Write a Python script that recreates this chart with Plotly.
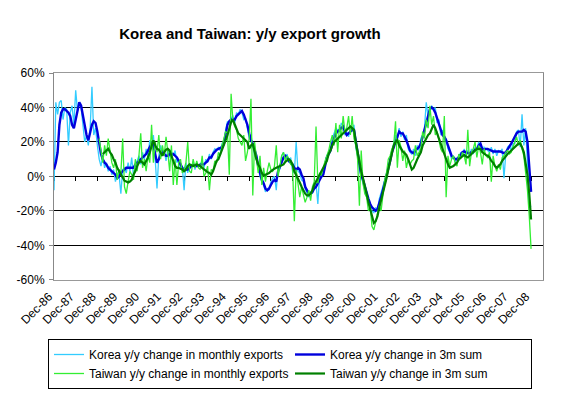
import plotly.graph_objects as go

# ---------------- data (monthly, Dec-86 ... Dec-08, % y/y) ----------------
tick_labels = ["Dec-86", "Dec-87", "Dec-88", "Dec-89", "Dec-90", "Dec-91", "Dec-92",
               "Dec-93", "Dec-94", "Dec-95", "Dec-96", "Dec-97", "Dec-98", "Dec-99",
               "Dec-00", "Dec-01", "Dec-02", "Dec-03", "Dec-04", "Dec-05", "Dec-06",
               "Dec-07", "Dec-08"]

# Korea y/y change in monthly exports (first value = Dec-86, then Jan..Dec per year)
korea_monthly_dec86 = [-8]
korea_monthly_rows = [
    [43, 36, 43, 44, 33, 40, 39, 18, 37, 41, 30, 50],      # 1987
    [38, 42, 40, 30, 20, 24, 18, 28, 52, 24, 28, 18],      # 1988
    [10, 6, 12, 5, 8, 3, 6, 1, 4, -3, 2, 1],               # 1989
    [-10, 4, 5, 2, 8, 3, 11, 0, 6, 9, 12, 7],              # 1990
    [14, 10, 16, 12, 21, 17, 24, 10, -7, 12, 18, 13],      # 1991
    [15, 9, 16, 11, 14, 12, 15, 8, 10, 4, 6, -8],          # 1992
    [8, 2, 7, 5, 9, 4, 8, 6, 7, 9, 5, 10],                 # 1993
    [8, 13, 10, 14, 16, 15, 17, 15, 19, 18, 27, 32],       # 1994
    [30, 34, 35, 31, 37, 36, 39, 37, 33, 34, 28, 22],      # 1995
    [24, 18, 12, 10, 4, 0, -3, -5, -9, -7, -8, -3],        # 1996
    [-1, 0, -8, 6, 4, 12, 14, 10, 13, 8, 11, 3],           # 1997
    [2, 20, 3, 2, -2, -3, -7, -10, -12, -9, -10, -5],      # 1998
    [-4, -16, 2, -1, 3, 8, 12, 14, 17, 22, 25, 28],        # 1999
    [27, 26, 31, 29, 24, 26, 23, 28, 26, 30, 17, 12],      # 2000
    [4, 0, -4, -8, -12, -14, -19, -20, -21, -18, -20, -13],  # 2001
    [-10, -6, -2, 1, 6, 10, 15, 19, 24, 21, 28, 23],       # 2002
    [26, 21, 24, 16, 14, 13, 16, 12, 18, 15, 22, 24],      # 2003
    [28, 43, 35, 38, 41, 39, 40, 31, 33, 24, 27, 21],      # 2004
    [22, 16, 14, 10, 12, 8, 11, 9, 14, 13, 16, 12],        # 2005
    [15, 12, 16, 13, 17, 15, 20, 18, 14, 17, 16, 15],      # 2006
    [14, 17, 13, 16, 12, 15, 14, 16, -1, 13, 17, 18],      # 2007
    [15, 19, 19, 26, 27, 17, 36, 18, 28, 8, -18, -17],     # 2008
]

# Korea y/y change in 3m sum
korea_3m_dec86 = [4]
korea_3m_rows = [
    [8, 14, 30, 37, 39, 39, 38, 37, 35, 30, 28, 33],
    [39, 43, 41, 35, 30, 24, 21, 26, 30, 32, 31, 26],
    [19, 13, 10, 8, 7, 5, 4, 3, 2, 1, -1, 0],
    [2, 3, 4, 5, 5, 5, 5, 5, 7, 8, 9, 10],
    [11, 12, 13, 15, 17, 19, 18, 12, 8, 10, 13, 15],
    [13, 12, 12, 13, 13, 13, 12, 11, 9, 7, 5, 4],
    [4, 4, 5, 6, 7, 6, 6, 6, 7, 7, 7, 8],
    [9, 11, 11, 13, 14.5, 15.5, 16, 16.5, 17, 19, 24, 30],
    [32, 33, 33, 33, 35, 36, 37, 38, 36, 33, 30, 25],
    [21, 19, 15, 12, 6, 1, -2, -4, -7, -8, -7, -5],
    [-3, -2, -3, 3, 6, 9, 11, 12, 11, 9, 8, 7],
    [5, 4, 5, 4, 1, -1, -6, -8, -10, -10, -9, -7],
    [-6, -4, -2, 0, 1, 6, 11, 13, 15, 19, 22, 25],
    [26, 27, 28, 29, 26, 24, 25, 26, 27, 27, 20, 15],
    [6, 1, -2, -6, -10, -13, -16, -18, -19, -20, -19, -16],
    [-12, -8, -4, 0, 5, 9, 14, 17, 21, 23, 26, 25],
    [25, 23, 21, 18, 15, 14, 13.5, 15, 16, 17, 19, 23],
    [27, 32, 36, 39, 40, 39, 37, 34, 31, 27, 24, 23],
    [21, 18, 15, 12, 11, 10, 10, 11, 12.5, 14, 14.5, 14],
    [13.5, 13.5, 14, 14.5, 15.5, 16, 18, 19, 16, 15.5, 16, 16],
    [15.5, 15, 14.5, 14.5, 14.5, 14.5, 14.5, 14, 13.5, 14, 15.5, 17],
    [19, 21, 23, 25, 26, 26, 26, 27, 26, 20, 4, -9],
]

# Taiwan series start in 1989 (Dec-86 .. Dec-88 empty)
taiwan_monthly_rows = [
    [22, 14, 8, 18, 12, 22, 14, 8, 5, 10, -2, 4],          # 1989
    [2, 22, -6, -10, -3, 3, 1, -2, 10, 3, 12, 25],         # 1990
    [5, 10, 3, 12, 8, 30, 8, 20, 14, 24, 10, 18],          # 1991
    [12, 23, 14, 3, 18, -5, 10, -5, 8, 10, 2, 4],          # 1992
    [8, 20, 3, 2, 10, 5, 9, 5, 4, 12, 0, 2],               # 1993
    [6, -8, 4, 3, 9, 8, 14, 12, 18, 22, 26, 25],           # 1994
    [1, 48, 32, 29, 27, 22, 20, 18, 24, 9, 14, 22],        # 1995
    [45, -11, 20, 12, 2, 12, -5, 5, -3, 3, 8, 4],          # 1996
    [3, 6, 18, 0, 5, 12, 14, 9, 12, 10, 7, 6],             # 1997
    [-26, 4, -4, -12, -6, -10, -15, -12, -8, -14, -6, -3], # 1998
    [29, -4, 2, 1, 6, 9, 12, 15, 20, 24, 18, 31],          # 1999
    [14, 30, 22, 35, 26, 28, 35, 24, 35, 22, 18, 10],      # 2000
    [-17, 15, -4, -10, -12, -20, -18, -29, -31, -26, -22, -17],  # 2001
    [-20, -12, -2, 2, 10, 12, 16, 18, 32, 5, 21, 17],      # 2002
    [9, 15, 5, 10, 7, 9, 10, 18, 12, 14, 16, 26],          # 2003
    [22, 33, 28, 41, 30, 35, 24, 26, 20, 16, 14, 35],      # 2004
    [-12, 12, 6, 10, 12, 8, 6, 13, 10, 14, 12, 7],         # 2005
    [27, 6, 14, 16, 20, 11, 18, 14, 7, 16, 12, 11],        # 2006
    [14, -3, 12, 6, 3, 7, 4, 11, 12, 14, 15, 13],          # 2007
    [14, 17, 20, 23, 18, 21, 16, 12, 2, -8, -23, -42],     # 2008
]

taiwan_3m_rows = [
    [None, None, 13, 14, 15, 16, 14, 12.5, 10, 8, 5, 3],
    [1, -1, -2.5, -3, -3.5, -3, -2, 1, 3, 6, 8, 9],
    [8, 7, 9, 11, 14, 17, 21, 18, 16, 15.5, 14, 12],
    [14, 15.5, 16, 15, 12, 9, 6, 5, 5, 4.5, 4, 3],
    [4, 6, 7, 6.5, 6, 6.5, 7, 6.5, 6, 5, 4, 3],
    [2.5, 2, 1, 3, 6, 9, 10, 12.5, 15, 18, 21, 24],
    [28, 31.5, 33, 30, 27, 25, 24, 23, 22, 21.5, 20, 16],
    [18, 19, 14, 10, 7, 5, 2, 0.5, 1, 1.5, 2, 3],
    [4, 4.5, 5, 5.5, 6, 6.5, 7, 8.5, 9.5, 10, 9, 7],
    [3, 1, -1, -3.5, -6, -8, -10, -11, -11, -10, -8, -5],
    [-3, -1, 1, 3, 5, 7, 9, 13, 15, 18, 20, 21],
    [22, 23, 24, 25, 26, 27, 28, 29, 28, 27, 20, 14],
    [8, 3, -1, -5, -10, -15, -19, -24, -27, -26, -23, -18],
    [-14, -10, -5, -1, 4, 9, 14, 18, 20, 21, 18, 16],
    [14.5, 13.5, 12.5, 10, 7, 4, 5, 8, 10, 12, 14, 18],
    [20, 22, 24, 25, 28, 30, 28, 25, 21, 18, 15, 12],
    [9, 7, 5, 5.5, 6, 7, 8, 10, 11, 12, 12.5, 11.5],
    [11, 12, 13, 14.5, 15.5, 16, 16, 16, 14, 13, 12.5, 12],
    [11, 9, 8, 6, 5, 6, 7, 9, 10.5, 12, 13, 14],
    [15, 16, 17, 18, 19, 19, 17, 14, 8, 1, -10, -25],
]

# ---------------- assemble ----------------
def flat(rows):
    out = []
    for r in rows:
        out.extend(r)
    return out

korea_monthly = korea_monthly_dec86 + flat(korea_monthly_rows)
korea_3m = korea_3m_dec86 + flat(korea_3m_rows)
taiwan_lead = [None] * 25  # Dec-86 .. Dec-88
taiwan_monthly = taiwan_lead + flat(taiwan_monthly_rows)
taiwan_3m = taiwan_lead + flat(taiwan_3m_rows)

n = len(korea_3m)
x = list(range(n))                       # month index, 0 = Dec-86
tick_pos = [12 * i for i in range(len(tick_labels))]
x_max = 270.6

FONT = "Arial, 'Liberation Sans', sans-serif"

fig = go.Figure()
fig.add_trace(go.Scatter(x=x, y=korea_monthly, mode="lines",
                         name="Korea y/y change in monthly exports",
                         line=dict(color="#33CCFF", width=1.3)))
fig.add_trace(go.Scatter(x=x, y=korea_3m, mode="lines",
                         name="Korea y/y change in 3m sum",
                         line=dict(color="#0000DD", width=2.4)))
fig.add_trace(go.Scatter(x=x, y=taiwan_monthly, mode="lines",
                         name="Taiwan y/y change in monthly exports",
                         line=dict(color="#33EE33", width=1.3)))
fig.add_trace(go.Scatter(x=x, y=taiwan_3m, mode="lines",
                         name="Taiwan y/y change in 3m sum",
                         line=dict(color="#008000", width=2.2)))
# helper trace so the zero-crossing category axis is drawn
fig.add_trace(go.Scatter(x=[0], y=[None], xaxis="x2", yaxis="y",
                         showlegend=False, hoverinfo="skip"))

fig.update_layout(
    width=579, height=416, autosize=False,
    margin=dict(l=54, r=36, t=73, b=132),
    paper_bgcolor="white", plot_bgcolor="white",
    font=dict(family=FONT, size=12, color="black"),
    title=dict(text="<b>Korea and Taiwan: y/y export growth</b>",
               x=250 / 579, xanchor="center", y=1 - 34 / 416, yanchor="middle",
               font=dict(family=FONT, size=15, color="black")),
    xaxis=dict(range=[0, x_max], tickmode="array", tickvals=tick_pos,
               ticktext=tick_labels, tickangle=-45, ticks="",
               ticklabelshift=-5, ticklabelstandoff=4,
               showgrid=False, zeroline=False, showline=True,
               linecolor="#999999", linewidth=1, mirror=True,
               tickfont=dict(family=FONT, size=12, color="black")),
    xaxis2=dict(range=[0, x_max], overlaying="x", anchor="free", position=0.5,
                tickmode="array", tickvals=tick_pos, showticklabels=False,
                ticks="outside", ticklen=4, tickcolor="black", tickwidth=1,
                showline=True, linecolor="black", linewidth=1,
                showgrid=False, zeroline=False, layer="below traces"),
    yaxis=dict(range=[-60, 60], tickmode="array",
               tickvals=[-60, -40, -20, 0, 20, 40, 60],
               ticktext=["-60%", "-40%", "-20%", "0%", "20%", "40%", "60%"],
               showgrid=True, gridcolor="black", gridwidth=1,
               zeroline=False, showline=True, linecolor="#888888",
               linewidth=1, mirror=True, ticks="outside", ticklen=4,
               tickcolor="#888888", ticklabelstandoff=2,
               tickfont=dict(family=FONT, size=12, color="black")),
    legend=dict(orientation="h", xref="container", yref="container",
                x=48 / 579, y=1 - 339 / 416, xanchor="left", yanchor="top",
                entrywidthmode="pixels", entrywidth=196,
                bordercolor="black", borderwidth=1, bgcolor="white",
                font=dict(family=FONT, size=12, color="black"),
                traceorder="normal"),
    showlegend=True,
)

fig.write_html("out.html")
